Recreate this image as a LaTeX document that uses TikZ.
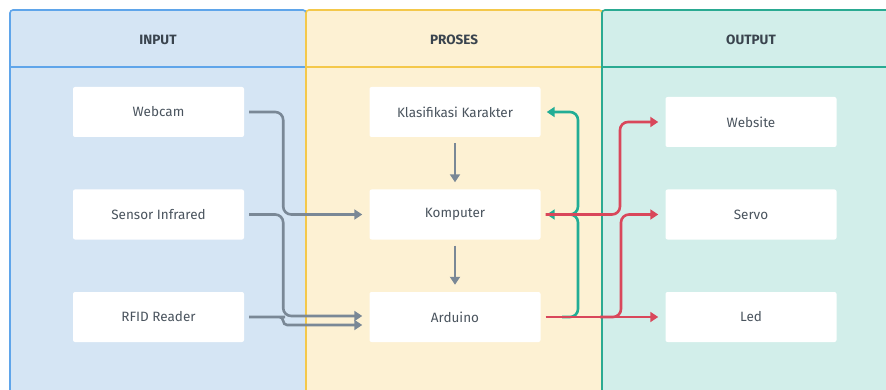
\documentclass[tikz,border=0pt]{standalone}
\usepackage{fontspec}
\setmainfont{Fira Sans}
\usetikzlibrary{arrows.meta}
\definecolor{inFill}{HTML}{D5E5F4}
\definecolor{inLine}{HTML}{5FA5EA}
\definecolor{prFill}{HTML}{FDF1D3}
\definecolor{prLine}{HTML}{F4C84A}
\definecolor{ouFill}{HTML}{D2EEEA}
\definecolor{ouLine}{HTML}{2AAA92}
\definecolor{grayArr}{HTML}{7A8896}
\definecolor{tealArr}{HTML}{22AD95}
\definecolor{redArr}{HTML}{D9475B}
\definecolor{hdText}{HTML}{3A444E}
\definecolor{bxText}{HTML}{4A545E}
\tikzset{
  panel/.style={line width=1.6pt, rounded corners=3pt},
  hdr/.style={font=\fontsize{13.5}{15}\selectfont\bfseries, text=hdText},
  box/.style={fill=white, rounded corners=2pt, minimum width=171pt, minimum height=50pt,
              font=\fontsize{13.5}{15}\selectfont, text=bxText, inner sep=0pt},
  arr/.style={line width=2.6pt, rounded corners=8pt, -{Triangle[length=8pt,width=10pt]}},
  garr/.style={arr, draw=grayArr},
  tarr/.style={arr, draw=tealArr},
  rarr/.style={arr, draw=redArr},
}
\begin{document}
\begin{tikzpicture}[x=1pt,y=-1pt]
\useasboundingbox (0,0) rectangle (886,390);
\clip (0,0) rectangle (886,390);
% panels
\draw[panel, fill=inFill, draw=inLine] (10,10) rectangle (306,400);
\draw[line width=1.6pt, draw=inLine] (10,67) -- (306,67);
\draw[panel, fill=prFill, draw=prLine] (306,10) rectangle (602,400);
\draw[line width=1.6pt, draw=prLine] (306,67) -- (602,67);
\draw[panel, fill=ouFill, draw=ouLine] (602,10) rectangle (900,400);
\draw[line width=1.6pt, draw=ouLine] (602,67) -- (900,67);
% headers
\node[hdr] (hin) at (158,40) {INPUT};
\node[hdr] (hpr) at (454,40) {PROSES};
\node[hdr] (hou) at (751,40) {OUTPUT};
% boxes
\node[box] (web)  at (158.5,112) {Webcam};
\node[box] (sens) at (158.5,214.5) {Sensor Infrared};
\node[box] (rfid) at (158.5,317) {RFID Reader};
\node[box] (klas) at (455,112) {Klasifikasi Karakter};
\node[box] (komp) at (455,214.5) {Komputer};
\node[box] (ard)  at (455,317) {Arduino};
\node[box] (webs) at (751,122) {Website};
\node[box] (serv) at (751,214.5) {Servo};
\node[box] (led)  at (751,317) {Led};
% gray arrows
\draw[garr] ([xshift=5pt]web.east) -- ++(34,0) |- ([xshift=-7pt]komp.west);
\draw[garr] ([xshift=5pt]sens.east) -- ++(34,0) |- ([xshift=-7pt,yshift=1pt]ard.west);
\draw[garr, rounded corners=4pt] ([xshift=5pt]rfid.east) -- ++(32,0) -- ++(2,0) -- ++(0,8) -- ([xshift=-7pt,yshift=-8pt]ard.west);
\draw[garr, shorten <=6pt, shorten >=7pt] (klas.south) -- (komp.north);
\draw[garr, shorten <=6pt, shorten >=7pt] (komp.south) -- (ard.north);
% teal arrows
\coordinate (tA) at (562,317);
\coordinate (tB) at (565,214.5);
\draw[tarr] (tA) -- (578,317) |- ([xshift=6pt]komp.east);
\draw[tarr] (tB) -- (578,214.5) |- ([xshift=6pt]klas.east);
% red arrows
\coordinate (rE) at (600,317);
\draw[rarr] ([xshift=5pt]komp.east) -- (620,214.5) |- ([xshift=-7pt]webs.west);
\draw[rarr] ([xshift=5pt]ard.east) -- ([xshift=-7pt]led.west);
\draw[rarr] (rE) -- (621,317) |- ([xshift=-7pt]serv.west);
\end{tikzpicture}
\end{document}
